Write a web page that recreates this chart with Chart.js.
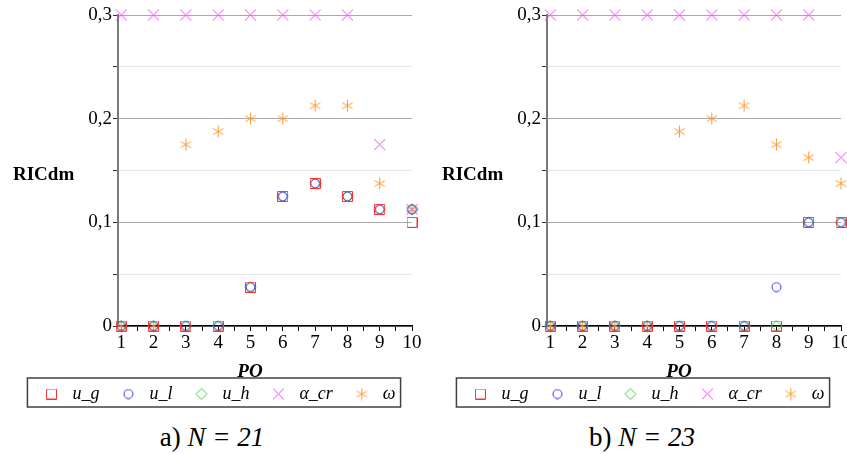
<!DOCTYPE html>
<html>
<head>
<meta charset="utf-8">
<script src="https://cdn.jsdelivr.net/npm/chart.js@4.4.1/dist/chart.umd.min.js"></script>
<style>
  html, body { margin: 0; padding: 0; background: #fff; width: 847px; height: 454px; overflow: hidden; }
  #wrap { position: relative; width: 847px; height: 454px; overflow: hidden; font-family: 'Liberation Serif', serif; color: #000; }
  canvas { position: absolute; top: 0; }
  .txt { position: absolute; white-space: nowrap; line-height: 1; }
  .ylab { font-weight: bold; font-size: 19px; transform: translateY(-50%); }
  .xlab { font-weight: bold; font-style: italic; font-size: 19px; transform: translate(-50%, -50%); }
  .cap { font-size: 27px; transform: translate(-50%, -50%); }
</style>
</head>
<body>
<div id="wrap">
  <canvas id="chartA" width="435" height="413" style="left:0px"></canvas>
  <canvas id="chartB" width="435" height="413" style="left:429px"></canvas>
  <div class="txt ylab" style="left:13px; top:173px">RICdm</div>
  <div class="txt ylab" style="left:442px; top:173px">RICdm</div>
  <div class="txt xlab" style="left:250px; top:370px">PO</div>
  <div class="txt xlab" style="left:679px; top:370px">PO</div>
  <div class="txt cap" style="left:212px; top:437px">a) <i>N = 21</i></div>
  <div class="txt cap" style="left:642px; top:437px">b) <i>N = 23</i></div>
</div>
<script>
// PO values on the x axis
const poValues = [1, 2, 3, 4, 5, 6, 7, 8, 9, 10]

// a) N = 21
const ug21  = [0, 0, 0, 0, 0.0375, 0.125, 0.1375, 0.125, 0.1125, 0.1]
const ul21  = [0, 0, 0, 0, 0.0375, 0.125, 0.1375, 0.125, 0.1125, 0.1125]
const uh21  = [0, 0, 0, 0, 0.0375, 0.125, 0.1375, 0.125, 0.1125, 0.1125]
const acr21 = [0.3, 0.3, 0.3, 0.3, 0.3, 0.3, 0.3, 0.3, 0.175, 0.1125]
const w21   = [0, 0, 0.175, 0.1875, 0.2, 0.2, 0.2125, 0.2125, 0.1375, 0.1125]

// b) N = 23
const ug23  = [0, 0, 0, 0, 0, 0, 0, 0, 0.1, 0.1]
const ul23  = [0, 0, 0, 0, 0, 0, 0, 0.0375, 0.1, 0.1]
const uh23  = [0, 0, 0, 0, 0, 0, 0, 0, 0.1, 0.1]
const acr23 = [0.3, 0.3, 0.3, 0.3, 0.3, 0.3, 0.3, 0.3, 0.3, 0.1625]
const w23   = [0, 0, 0, 0, 0.1875, 0.2, 0.2125, 0.175, 0.1625, 0.1375]

const seriesNames = ['u_g', 'u_l', 'u_h', 'α_cr', 'ω']

const xTickValues = [1, 1.5, 2, 2.5, 3, 3.5, 4, 4.5, 5, 5.5, 6, 6.5, 7, 7.5, 8, 8.5, 9, 9.5, 10]
const xTickLabels = ['1', '', '2', '', '3', '', '4', '', '5', '', '6', '', '7', '', '8', '', '9', '', '10']
const yTickValues = [0, 0.05, 0.1, 0.15, 0.2, 0.25, 0.3]
const yTickLabels = ['0', '', '0,1', '', '0,2', '', '0,3']

Chart.defaults.font.family = "'Liberation Serif', serif"
Chart.defaults.color = '#000'

// little marker pictures, used both on the plot and in the legend
const makeMarker = (size, color, draw) => {
    const c = document.createElement('canvas')
    c.width = size
    c.height = size
    const ctx = c.getContext('2d')
    ctx.strokeStyle = color
    ctx.lineWidth = 1
    ctx.beginPath()
    draw(ctx, size / 2)
    ctx.stroke()
    return c
}

const squareMark = makeMarker(11, '#ff2f2f', ctx => ctx.rect(0.5, 0.5, 10, 10))
const circleMark = makeMarker(11, '#3030ff', (ctx, m) => ctx.arc(m, m, 4.5, 0, Math.PI * 2))
const diamondMark = makeMarker(13, '#3fcc3f', (ctx, m) => {
    ctx.moveTo(m, 1); ctx.lineTo(12, m); ctx.lineTo(m, 12); ctx.lineTo(1, m); ctx.closePath()
})
const crossMark = makeMarker(13, '#ff3cff', ctx => {
    ctx.moveTo(1, 1); ctx.lineTo(12, 12); ctx.moveTo(12, 1); ctx.lineTo(1, 12)
})
const starMark = makeMarker(13, '#ff9a33', (ctx, m) => {
    for (const a of [90, 30, 150]) {
        const dx = Math.cos(a * Math.PI / 180) * 6
        const dy = Math.sin(a * Math.PI / 180) * 6
        ctx.moveTo(m - dx, m - dy); ctx.lineTo(m + dx, m + dy)
    }
})
const markers = [squareMark, circleMark, diamondMark, crossMark, starMark]

const legendFrame = {
    id: 'legendFrame',
    afterDraw: chart => {
        const hb = chart.legend.legendHitBoxes
        if (!hb || !hb.length) { return }
        const first = hb[0]
        const last = hb[hb.length - 1]
        const ctx = chart.ctx
        ctx.save()
        ctx.strokeStyle = '#404040'
        ctx.lineWidth = 1.5
        ctx.strokeRect(first.left - 12, first.top - 7, last.left + last.width + 5 - (first.left - 12), first.height + 11)
        ctx.restore()
    }
}

const makeChart = (id, series) => {
    return new Chart(document.getElementById(id), {
        type: 'scatter',
        data: {
            datasets: series.map((values, i) => ({
                label: seriesNames[i],
                data: poValues.map((x, j) => ({ x: x, y: values[j] })),
                pointStyle: markers[i],
                showLine: false,
                clip: false
            }))
        },
        options: {
            responsive: false,
            animation: false,
            events: [],
            devicePixelRatio: 1,
            layout: { padding: { top: 15, left: 0, right: 0, bottom: 0 } },
            plugins: {
                tooltip: { enabled: false },
                legend: {
                    position: 'bottom',
                    labels: {
                        usePointStyle: true,
                        pointStyleWidth: 24,
                        padding: 17,
                        color: '#000',
                        font: { size: 18, style: 'italic' }
                    }
                }
            },
            scales: {
                x: {
                    type: 'linear',
                    min: 0.9,
                    max: 10,
                    afterBuildTicks: scale => { scale.ticks = xTickValues.map(v => ({ value: v })) },
                    afterFit: scale => {
                        scale.height = 42
                        scale.paddingRight = 23
                    },
                    grid: { drawOnChartArea: false, drawTicks: true, tickLength: 5, tickColor: '#000' },
                    border: { color: '#000', width: 1.5 },
                    ticks: {
                        autoSkip: false,
                        maxRotation: 0,
                        padding: 1,
                        font: { size: 19 },
                        callback: (v, i) => xTickLabels[i]
                    }
                },
                y: {
                    type: 'linear',
                    min: 0,
                    max: 0.3,
                    afterBuildTicks: scale => { scale.ticks = yTickValues.map(v => ({ value: v })) },
                    afterFit: scale => { scale.width = 118 },
                    grid: {
                        drawTicks: true,
                        tickLength: 5,
                        tickColor: '#333',
                        color: ctx => yTickLabels[ctx.index] ? '#a9a9a9' : '#e6e6e6'
                    },
                    border: { color: '#7a7a7a', width: 2 },
                    ticks: {
                        padding: 1,
                        font: { size: 19 },
                        callback: (v, i) => yTickLabels[i]
                    }
                }
            }
        },
        plugins: [legendFrame]
    })
}

makeChart('chartA', [ug21, ul21, uh21, acr21, w21])
makeChart('chartB', [ug23, ul23, uh23, acr23, w23])
</script>
</body>
</html>
